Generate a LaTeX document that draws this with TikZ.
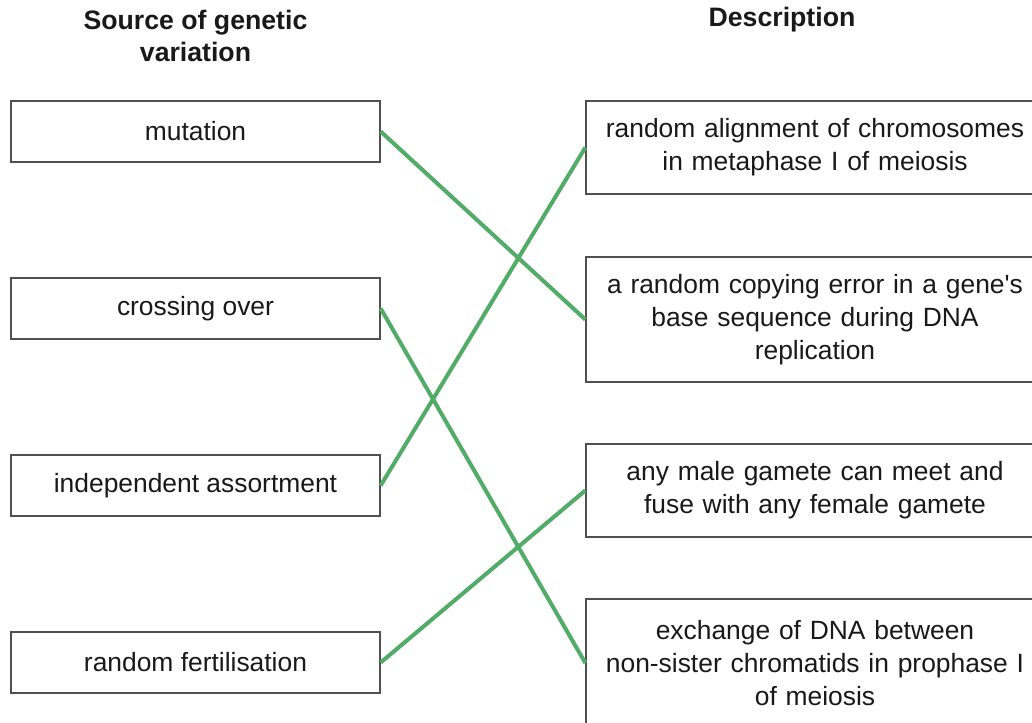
\documentclass[tikz,border=0pt]{standalone}
\usepackage{fontspec}
\setmainfont{Liberation Sans}
\definecolor{linkgreen}{RGB}{80,172,102}
\definecolor{boxgray}{RGB}{80,80,80}
\definecolor{txt}{RGB}{25,25,25}
\begin{document}
\begin{tikzpicture}[x=0.75pt,y=-0.75pt,
  box/.style={draw=boxgray,line width=1pt,fill=white,inner sep=0pt,text=txt,
    font=\fontsize{19.8}{24.6}\selectfont,align=center},
  leftbox/.style={box,minimum width=276.75pt,minimum height=45.75pt},
  rightbox/.style={box,minimum width=343.5pt,text width=335pt},
  head/.style={font=\bfseries\fontsize{20}{24}\selectfont,text=txt,align=center},
  link/.style={draw=linkgreen,line width=3pt}]
\useasboundingbox (0,0) rectangle (1032,722);
\fill[white] (0,0) rectangle (1032,722);
\node[head] (h1) at (195.5,36) {Source of genetic\\variation};
\node[head] (h2) at (782,20) {Description};
\node[leftbox] (l1) at (195.5,131.5) {mutation};
\node[leftbox] (l2) at (195.5,308.5) {crossing over};
\node[leftbox] (l3) at (195.5,485.5) {independent assortment};
\node[leftbox] (l4) at (195.5,662.5) {random fertilisation};
\node[rightbox,minimum height=69.75pt] (r1) at (815,147.5) {random alignment of chromosomes\\in metaphase I of meiosis};
\node[rightbox,minimum height=93.75pt] (r2) at (815,319.5) {a random copying error in a gene\textquotesingle s\\base sequence during DNA\\replication};
\node[rightbox,minimum height=69.75pt] (r3) at (815,490.5) {any male gamete can meet and\\fuse with any female gamete};
\node[rightbox,minimum height=96pt] (r4) at (815,663) {exchange of DNA between\\non-sister chromatids in prophase I\\of meiosis};
\draw[link] (l1.east) -- (r2.west);
\draw[link] (l2.east) -- (r4.west);
\draw[link] (l3.east) -- (r1.west);
\draw[link] (l4.east) -- (r3.west);
\end{tikzpicture}
\end{document}
